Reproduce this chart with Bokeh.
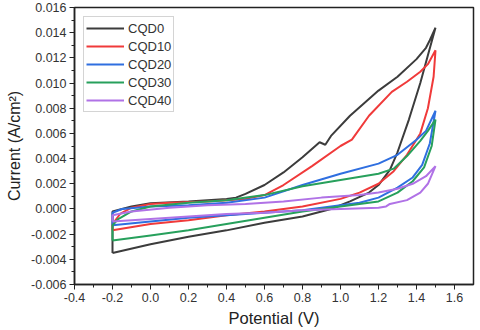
from bokeh.plotting import figure
from bokeh.models import SingleIntervalTicker, NumeralTickFormatter, Range1d
from bokeh.embed import file_html
from bokeh.resources import INLINE

# ---- data ----
cqd0_x = [-0.2, 0.0, 0.2, 0.4, 0.6, 0.8, 0.95, 1.05, 1.15, 1.2, 1.26, 1.3, 1.36, 1.42, 1.46, 1.5,
          1.47, 1.45, 1.4, 1.3, 1.2, 1.05, 0.95, 0.92, 0.89, 0.8, 0.7, 0.6, 0.5, 0.45, 0.4, 0.2, 0.0, -0.1, -0.2, -0.2]
cqd0_y = [-0.0035, -0.0028, -0.0022, -0.0017, -0.0011, -0.0006, 0.0, 0.0006, 0.0013, 0.0019, 0.0031, 0.0045, 0.0071, 0.0100, 0.0122, 0.0144,
          0.0134, 0.0128, 0.0119, 0.0105, 0.0094, 0.0074, 0.0058, 0.0051, 0.0053, 0.0041, 0.0029, 0.0019, 0.0012, 0.0009, 0.0008, 0.0006, 0.00045, 0.0002, -0.0002, -0.0035]

cqd10_x = [-0.2, 0.0, 0.2, 0.4, 0.6, 0.8, 1.0, 1.1, 1.2, 1.28, 1.35, 1.42, 1.46, 1.49, 1.5,
           1.46, 1.42, 1.35, 1.27, 1.15, 1.06, 1.0, 0.85, 0.7, 0.6, 0.5, 0.3, 0.1, 0.0, -0.1, -0.16, -0.2, -0.2]
cqd10_y = [-0.0017, -0.0012, -0.0009, -0.0005, -0.0002, 0.0002, 0.0008, 0.0013, 0.0020, 0.0030, 0.0043, 0.0060, 0.0080, 0.0105, 0.0126,
           0.0115, 0.0109, 0.0101, 0.0093, 0.0074, 0.0055, 0.0050, 0.0034, 0.0019, 0.0011, 0.0008, 0.0006, 0.0005, 0.0004, 0.0001, -0.0004, -0.0012, -0.0017]

cqd20_x = [-0.2, 0.0, 0.2, 0.4, 0.6, 0.8, 0.95, 1.1, 1.2, 1.3, 1.38, 1.43, 1.47, 1.5,
           1.45, 1.4, 1.3, 1.2, 1.0, 0.8, 0.6, 0.4, 0.2, 0.0, -0.15, -0.2, -0.2]
cqd20_y = [-0.0013, -0.0010, -0.0007, -0.0005, -0.0003, -0.0001, 0.0002, 0.0005, 0.0009, 0.0017, 0.0025, 0.0035, 0.0052, 0.0078,
           0.0062, 0.0055, 0.0043, 0.0036, 0.0028, 0.0019, 0.0009, 0.0005, 0.0003, 0.0002, 0.0, -0.0003, -0.0013]

cqd30_x = [-0.2, 0.0, 0.2, 0.4, 0.6, 0.8, 1.0, 1.2, 1.3, 1.38, 1.44, 1.48, 1.5,
           1.46, 1.42, 1.35, 1.28, 1.2, 1.0, 0.8, 0.6, 0.4, 0.2, 0.0, -0.1, -0.17, -0.2, -0.2]
cqd30_y = [-0.0025, -0.0021, -0.0017, -0.0012, -0.0007, -0.0002, 0.0002, 0.0006, 0.0013, 0.0022, 0.0033, 0.0050, 0.0071,
           0.0062, 0.0054, 0.0042, 0.0032, 0.0028, 0.0023, 0.0018, 0.0011, 0.0007, 0.0005, 0.0002, -0.0002, -0.0008, -0.0013, -0.0025]

cqd40_x = [-0.2, 0.0, 0.2, 0.4, 0.6, 0.8, 1.0, 1.2, 1.24, 1.26, 1.35, 1.42, 1.46, 1.5,
           1.45, 1.38, 1.3, 1.2, 1.1, 0.9, 0.7, 0.5, 0.3, 0.1, -0.1, -0.2, -0.2]
cqd40_y = [-0.0010, -0.0008, -0.0006, -0.0004, -0.0003, -0.0001, 0.0, 0.0001, 0.0002, 0.0004, 0.0007, 0.0013, 0.0020, 0.0034,
           0.0026, 0.0020, 0.0016, 0.0013, 0.0011, 0.0009, 0.0006, 0.0004, 0.0003, 0.0001, -0.0002, -0.0005, -0.0010]

series = [
    ("CQD0", cqd0_x, cqd0_y, "#3c3c3c"),
    ("CQD10", cqd10_x, cqd10_y, "#f03a3a"),
    ("CQD20", cqd20_x, cqd20_y, "#2f6fe0"),
    ("CQD30", cqd30_x, cqd30_y, "#27a05c"),
    ("CQD40", cqd40_x, cqd40_y, "#b072e6"),
]

FONT = "Liberation Sans"

p = figure(width=480, height=330, output_backend="svg", toolbar_location=None,
           x_range=Range1d(-0.4, 1.7), y_range=Range1d(-0.006, 0.016),
           min_border_left=74, min_border_right=7, min_border_top=7, min_border_bottom=46)

for name, xs, ys, col in series:
    p.line(xs, ys, line_color=col, line_width=2, legend_label=name)

p.xgrid.visible = False
p.ygrid.visible = False
p.background_fill_color = "white"
p.border_fill_color = "white"
p.outline_line_color = "#222222"
p.outline_line_width = 1.5

p.xaxis.ticker = SingleIntervalTicker(interval=0.2, num_minor_ticks=2)
p.yaxis.ticker = SingleIntervalTicker(interval=0.002, num_minor_ticks=2)
p.xaxis.formatter = NumeralTickFormatter(format="0.0")
p.yaxis.formatter = NumeralTickFormatter(format="0.000")

for ax in (p.xaxis[0], p.yaxis[0]):
    ax.axis_line_color = "#222222"
    ax.axis_line_width = 1.5
    ax.major_tick_line_color = "#222222"
    ax.minor_tick_line_color = "#222222"
    ax.major_tick_in = 0
    ax.major_tick_out = 5
    ax.minor_tick_in = 0
    ax.minor_tick_out = 3
    ax.major_label_standoff = 3
    ax.major_label_text_font = FONT
    ax.major_label_text_font_size = "12.5px"
    ax.major_label_text_color = "#333333"
    ax.axis_label_text_font = FONT
    ax.axis_label_text_font_style = "normal"
    ax.axis_label_text_color = "#222222"

p.xaxis.axis_label = "Potential (V)"
p.yaxis.axis_label = "Current (A/cm²)"
p.xaxis.axis_label_text_font_size = "16.5px"
p.yaxis.axis_label_text_font_size = "16px"
p.xaxis.axis_label_standoff = 4
p.yaxis.axis_label_standoff = 5

lg = p.legend[0]
lg.location = "top_left"
lg.margin = 9
lg.padding = 2
lg.spacing = 0
lg.glyph_width = 38
lg.glyph_height = 18
lg.label_height = 18
lg.label_standoff = 4
lg.label_text_font = FONT
lg.label_text_font_size = "13px"
lg.label_text_color = "#333333"
lg.border_line_color = "#aaaaaa"
lg.border_line_width = 1
lg.background_fill_alpha = 1.0

open("out.html", "w").write(file_html(p, INLINE))
